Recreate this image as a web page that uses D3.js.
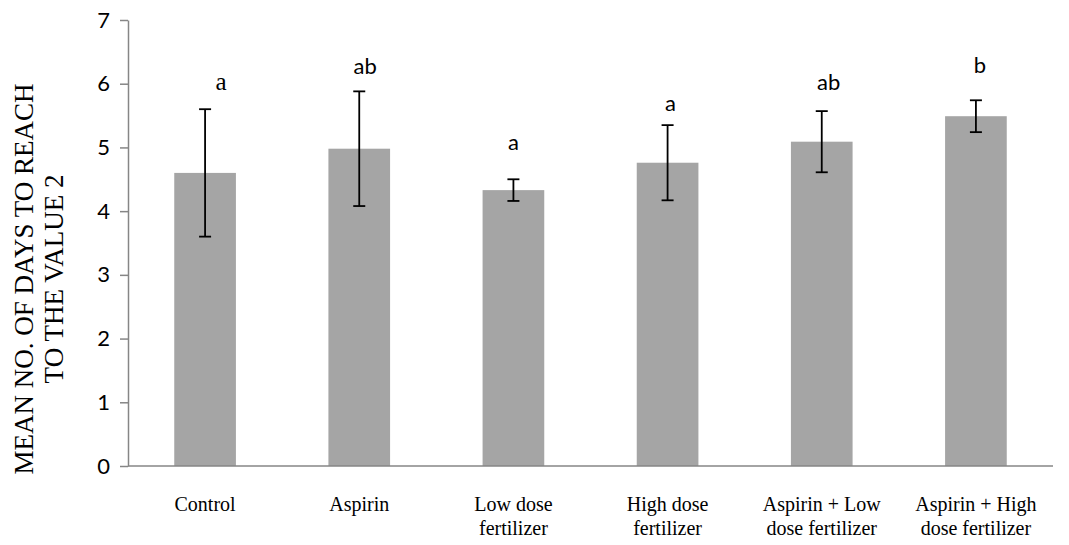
<!DOCTYPE html>
<html>
<head>
<meta charset="utf-8">
<script src="https://cdn.jsdelivr.net/npm/d3@7"></script>
<style>
  body { margin: 0; background: #fff; }
  svg { display: block; }
</style>
</head>
<body>
<div id="chart"></div>
<script>
var categories = ["Control", "Aspirin", "Low dose\nfertilizer", "High dose\nfertilizer",
                  "Aspirin + Low\ndose fertilizer", "Aspirin + High\ndose fertilizer"];
var means = [4.60, 4.98, 4.33, 4.76, 5.09, 5.49];
var errors = [1.00, 0.90, 0.17, 0.59, 0.48, 0.25];
var letters = ["a", "ab", "a", "a", "ab", "b"];
var letterAt = [5.90, 6.15, 4.96, 5.57, 5.90, 6.17];
var yTicks = [0, 1, 2, 3, 4, 5, 6, 7];

var W = 1069, H = 545;
var margin = {top: 20, right: 16, bottom: 79, left: 128};
var serif = "'Liberation Serif', 'Times New Roman', serif";
var sans = "Lato, 'Open Sans', sans-serif";

var svg = d3.select("#chart").append("svg")
    .attr("width", W)
    .attr("height", H);

var x = d3.scaleBand()
    .domain(categories)
    .range([margin.left, W - margin.right])
    .paddingInner(0.6)
    .paddingOuter(0.3);

var y = d3.scaleLinear()
    .domain([0, 7])
    .range([H - margin.bottom, margin.top]);

// bars
svg.append("g").selectAll("rect")
  .data(categories)
  .join("rect")
    .attr("x", d => x(d))
    .attr("y", (d, i) => y(means[i]))
    .attr("width", x.bandwidth())
    .attr("height", (d, i) => y(0) - y(means[i]))
    .attr("fill", "#a5a5a5");

// error bars
var eb = svg.append("g").attr("stroke", "#000").attr("stroke-width", 1.8);
categories.forEach(function(c, i){
  var cx = x(c) + x.bandwidth()/2;
  var lo = y(means[i] - errors[i]), hi = y(means[i] + errors[i]);
  eb.append("line").attr("x1", cx).attr("x2", cx).attr("y1", lo).attr("y2", hi);
  eb.append("line").attr("x1", cx - 6).attr("x2", cx + 6).attr("y1", lo).attr("y2", lo);
  eb.append("line").attr("x1", cx - 6).attr("x2", cx + 6).attr("y1", hi).attr("y2", hi);
});

// y axis
var yAxis = svg.append("g")
    .attr("transform", "translate(" + margin.left + ",0)")
    .call(d3.axisLeft(y).tickValues(yTicks).tickFormat(d3.format("d"))
      .tickSize(8).tickSizeOuter(0).tickPadding(10));
yAxis.selectAll("path, line").attr("stroke", "#868686").attr("stroke-width", 1.5);
yAxis.selectAll("text")
    .attr("fill", "#000")
    .style("font-family", sans)
    .style("font-size", "22px");

// x axis line
svg.append("line")
    .attr("x1", margin.left).attr("x2", W - margin.right)
    .attr("y1", y(0)).attr("y2", y(0))
    .attr("stroke", "#868686").attr("stroke-width", 1.5);

// x labels
var xl = svg.append("g");
categories.forEach(function(c){
  var t = xl.append("text")
      .attr("x", x(c) + x.bandwidth()/2)
      .attr("y", 511)
      .attr("text-anchor", "middle")
      .style("font-family", serif)
      .style("font-size", "20px");
  c.split("\n").forEach(function(line, k){
    t.append("tspan")
      .attr("x", x(c) + x.bandwidth()/2)
      .attr("dy", k == 0 ? 0 : 24)
      .text(line);
  });
});

// significance letters (the first one is set in a serif face in the original)
var shift = [16, 6, 0, 3, 7, 4];
svg.append("g").selectAll("text")
  .data(letters)
  .join("text")
    .attr("x", (d, i) => x(categories[i]) + x.bandwidth()/2 + shift[i])
    .attr("y", (d, i) => y(letterAt[i]))
    .attr("text-anchor", "middle")
    .style("font-family", (d, i) => i == 0 ? serif : sans)
    .style("font-size", (d, i) => i == 0 ? "25px" : "22px")
    .text(d => d);

// y title
var yt = svg.append("text")
    .attr("transform", "rotate(-90)")
    .attr("text-anchor", "middle")
    .style("font-family", serif)
    .style("font-size", "27px");
yt.append("tspan").attr("x", -279).attr("y", 33).text("MEAN NO. OF DAYS TO REACH");
yt.append("tspan").attr("x", -279).attr("y", 63).text("TO THE VALUE 2");
</script>
</body>
</html>
